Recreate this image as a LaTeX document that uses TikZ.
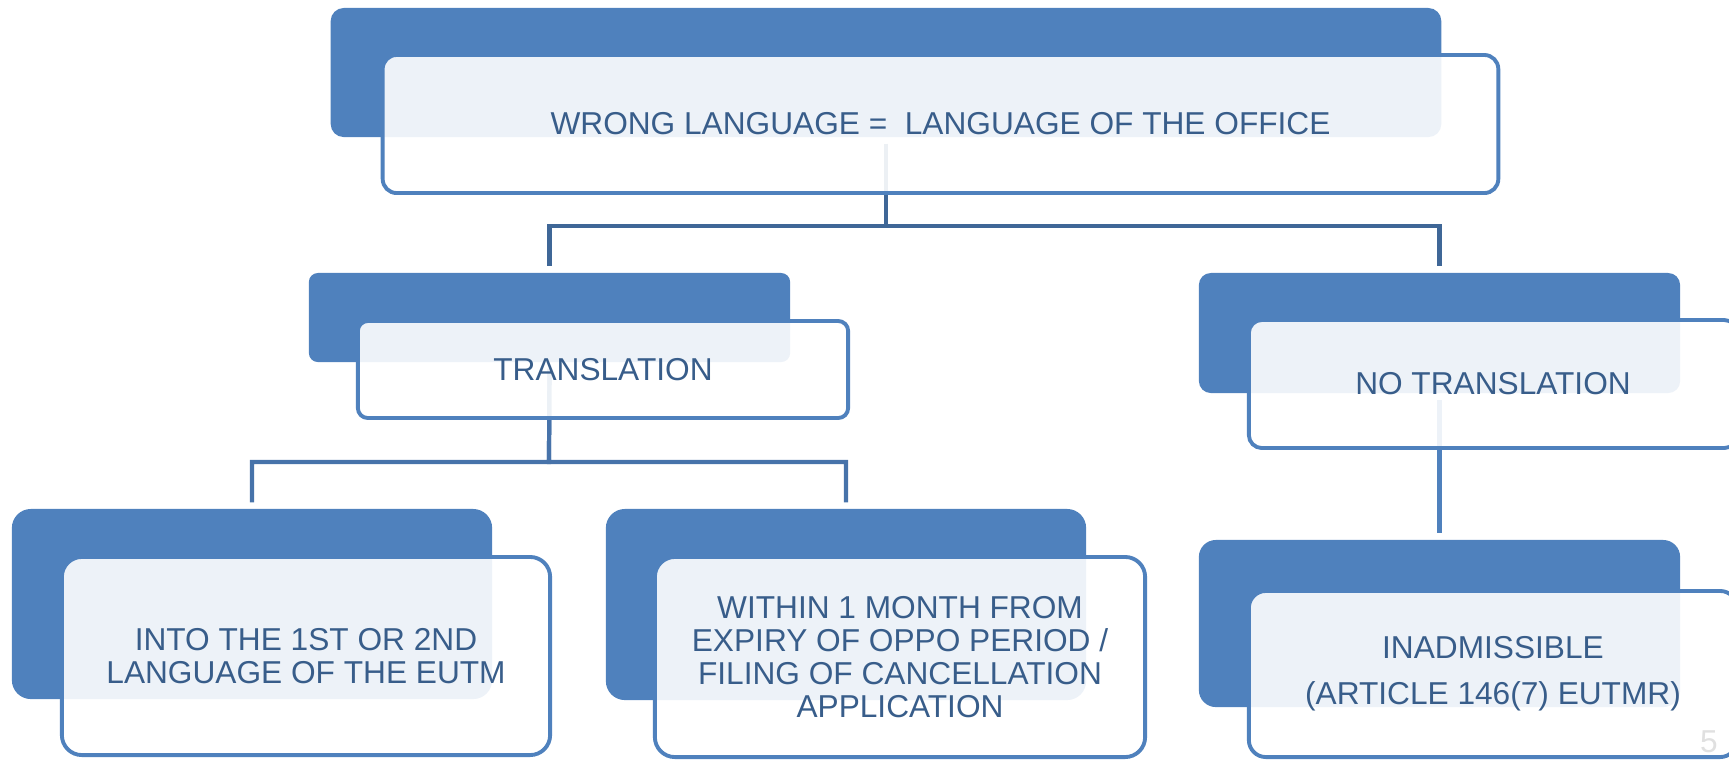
\documentclass[tikz,border=0pt]{standalone}
\usepackage{fontspec}
\setmainfont{Liberation Sans}
\usetikzlibrary{calc}
\definecolor{boxblue}{HTML}{4F81BD}
\definecolor{textblue}{HTML}{385D8A}
\definecolor{linedark}{HTML}{3F6797}
\definecolor{linemid}{HTML}{4773AA}
\tikzset{
  back/.style={fill=boxblue, rounded corners=#1, inner sep=0pt},
  front/.style={draw=boxblue, line width=1.1pt, fill=white, fill opacity=0.9,
    text opacity=1, text=textblue, rounded corners=#1, align=center,
    inner sep=0pt, font=\fontsize{9}{9.4}\selectfont},
  link/.style={draw=#1, line width=1.2pt, shorten <=0.06cm, shorten >=0.06cm}
}

\begin{document}
\begin{tikzpicture}[x=0.01cm,y=-0.01cm]
  \useasboundingbox (0,0) rectangle (1729,759);
  \clip (0,0) rectangle (1729,759);
  % dark boxes behind
  \node[back=0.13cm, minimum width=11.10cm, minimum height=1.29cm] (btop) at (886,72.5) {};
  \node[back=0.09cm, minimum width=4.81cm, minimum height=0.89cm] (btr) at (549.5,317.5) {};
  \node[back=0.12cm, minimum width=4.81cm, minimum height=1.20cm] (bno) at (1439.5,333) {};
  \node[back=0.19cm, minimum width=4.80cm, minimum height=1.90cm] (binto) at (252,604) {};
  \node[back=0.19cm, minimum width=4.80cm, minimum height=1.91cm] (bwithin) at (846,604.5) {};
  \node[back=0.17cm, minimum width=4.81cm, minimum height=1.67cm] (binad) at (1439.5,623.5) {};
  % connectors
  \coordinate (j1) at (886,226);
  \coordinate (j2) at (549,462);
  \draw[link=linedark] (btop.south) -- (j1) -| (btr.north);
  \draw[link=linedark] (btop.south) -- (j1) -| (bno.north);
  \draw[link=linemid] (btr.south) -- (j2) -| (binto.north);
  \draw[link=linemid] (btr.south) -- (j2) -| (bwithin.north);
  \draw[link=boxblue] (bno.south) -- (binad.north);
  % white boxes in front
  \node[front=0.14cm, minimum width=11.15cm, minimum height=1.38cm] (top) at (940.5,124)
    {WRONG LANGUAGE = \ LANGUAGE OF THE OFFICE};
  \node[front=0.10cm, minimum width=4.90cm, minimum height=0.97cm] (tr) at (603,369.5)
    {TRANSLATION};
  \node[front=0.13cm, minimum width=4.88cm, minimum height=1.28cm] (no) at (1493,384)
    {NO TRANSLATION};
  \node[front=0.20cm, minimum width=4.88cm, minimum height=1.98cm] (into) at (306,656)
    {INTO THE 1ST OR 2ND\\LANGUAGE OF THE EUTM};
  \node[front=0.20cm, minimum width=4.90cm, minimum height=2.00cm] (within) at (900,657)
    {WITHIN 1 MONTH FROM\\EXPIRY OF OPPO PERIOD /\\FILING OF CANCELLATION\\APPLICATION};
  \node[front=0.17cm, minimum width=4.88cm, minimum height=1.66cm] (inad) at (1493,674)
    {INADMISSIBLE\\[3.7pt](ARTICLE 146(7) EUTMR)};
  \node[text=black!12, font=\fontsize{9}{9}\selectfont, anchor=south, inner sep=1pt] (pnum) at (1709,757) {5};
\end{tikzpicture}
\end{document}
